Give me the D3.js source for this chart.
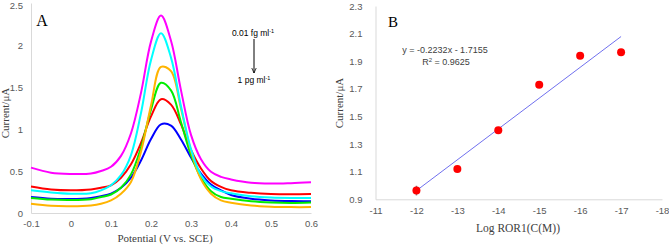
<!DOCTYPE html>
<html>
<head>
<meta charset="utf-8">
<script src="https://cdn.jsdelivr.net/npm/d3@7"></script>
<style>
  body { margin: 0; background: #fff; }
  text { font-family: "Liberation Sans", Arial, sans-serif; }
  .serif { font-family: "Liberation Serif", "Times New Roman", serif; }
</style>
</head>
<body>
<div id="roott"></div>
<script>
// DIMENSIONS
const widthh = 669;
const heightt = 245;

// ---- panel A data (DPV curves) ----
const potential = [-0.1, -0.05, 0, 0.05, 0.075, 0.1, 0.125, 0.15, 0.175, 0.2, 0.225, 0.25, 0.275, 0.3, 0.325, 0.35, 0.375, 0.4, 0.45, 0.5, 0.55, 0.6];
const magentaCurve = [0.54, 0.48, 0.465, 0.47, 0.50, 0.55, 0.68, 0.95, 1.43, 2.04, 2.35, 2.05, 1.46, 0.93, 0.64, 0.49, 0.43, 0.40, 0.36, 0.35, 0.355, 0.365];
const cyanCurve    = [0.27, 0.245, 0.23, 0.235, 0.27, 0.33, 0.45, 0.69, 1.19, 1.82, 2.14, 1.85, 1.27, 0.76, 0.45, 0.315, 0.26, 0.234, 0.20, 0.185, 0.18, 0.18];
const orangeCurve  = [0.11, 0.085, 0.08, 0.09, 0.11, 0.15, 0.23, 0.37, 0.73, 1.28, 1.74, 1.69, 1.24, 0.74, 0.40, 0.23, 0.15, 0.123, 0.09, 0.075, 0.07, 0.07];
const greenCurve   = [0.18, 0.16, 0.155, 0.165, 0.19, 0.22, 0.30, 0.46, 0.78, 1.23, 1.55, 1.46, 1.08, 0.69, 0.42, 0.26, 0.19, 0.17, 0.14, 0.125, 0.12, 0.125];
const redCurve     = [0.315, 0.28, 0.27, 0.28, 0.30, 0.33, 0.42, 0.58, 0.835, 1.15, 1.355, 1.29, 1.055, 0.75, 0.53, 0.38, 0.31, 0.27, 0.24, 0.225, 0.222, 0.225];
const blueCurve    = [0.19, 0.17, 0.167, 0.18, 0.20, 0.23, 0.30, 0.42, 0.625, 0.88, 1.055, 1.04, 0.875, 0.66, 0.47, 0.34, 0.27, 0.215, 0.17, 0.15, 0.142, 0.14];
const curveColors  = ['#ff00ff', '#00ffff', '#ffb400', '#00ee00', '#ff0000', '#0000ff'];
const xTicksA = [-0.1, 0, 0.1, 0.2, 0.3, 0.4, 0.5, 0.6];
const yTicksA = [0, 0.5, 1, 1.5, 2, 2.5];

// ---- panel B data (calibration) ----
const logConc = [-12, -13, -14, -15, -16, -17];
const peakCurrent = [0.963, 1.12, 1.40, 1.73, 1.94, 1.965];
const errBars = [0.035, 0.02, 0.02, 0.02, 0.02, 0.02];
const fitSlope = -0.2232;
const fitIntercept = -1.7155;
const xTicksB = [-11, -12, -13, -14, -15, -16, -17, -18];
const yTicksB = [0.9, 1.1, 1.3, 1.5, 1.7, 1.9, 2.1, 2.3];

let svg = d3.select('#roott')
  .append('svg')
  .attr('width', widthh)
  .attr('height', heightt)
  .style('background-color', '#fff');

// ================= PANEL A =================
let xA = d3.scaleLinear().domain([-0.1, 0.6]).range([31, 311]);
let yA = d3.scaleLinear().domain([0, 2.5]).range([213, 3]);

let gA = svg.append('g');

gA.append('g')
  .attr('transform', 'translate(0,213)')
  .call(d3.axisBottom(xA).tickValues(xTicksA).tickFormat(d => String(d)).tickSize(0).tickPadding(7))
  .call(g => g.select('.domain').attr('stroke', '#d9d9d9'))
  .call(g => g.selectAll('text').attr('fill', '#595959').style('font-size', '9.5px'));

gA.append('g')
  .attr('transform', 'translate(31,0)')
  .call(d3.axisLeft(yA).tickValues(yTicksA).tickFormat(d => String(d)).tickSize(0).tickPadding(8))
  .call(g => g.select('.domain').attr('stroke', '#d9d9d9'))
  .call(g => g.selectAll('text').attr('fill', '#595959').style('font-size', '9.5px'))
  // top label would be clipped by the window edge, nudge it down a bit
  .call(g => g.selectAll('.tick').filter(d => d === 2.5).select('text').attr('dy', '0.55em'));

let curves = [magentaCurve, cyanCurve, orangeCurve, greenCurve, redCurve, blueCurve];
let lineA = d3.line()
  .x((d, i) => xA(potential[i]))
  .y(d => yA(d))
  .curve(d3.curveCatmullRom.alpha(0.5));

// draw bottom-most first so magenta ends on top like the original
[5, 4, 3, 2, 1, 0].forEach(k => {
  gA.append('path')
    .datum(curves[k])
    .attr('d', lineA)
    .attr('fill', 'none')
    .attr('stroke', curveColors[k])
    .attr('stroke-width', 2);
});

gA.append('text').attr('class', 'serif')
  .attr('x', 42).attr('y', 26)
  .attr('text-anchor', 'middle')
  .style('font-size', '16px')
  .text('A');

gA.append('text').attr('class', 'serif')
  .attr('transform', 'translate(9,113) rotate(-90)')
  .attr('text-anchor', 'middle')
  .attr('fill', '#404040')
  .style('font-size', '11px')
  .text('Current/μA');

gA.append('text').attr('class', 'serif')
  .attr('x', 165).attr('y', 242)
  .attr('text-anchor', 'middle')
  .attr('fill', '#404040')
  .style('font-size', '11px')
  .text('Potential (V vs. SCE)');

// concentration arrow
let ann = gA.append('g').style('font-size', '8.5px');
let t1 = ann.append('text').attr('x', 253).attr('y', 36).attr('text-anchor', 'middle');
t1.append('tspan').text('0.01 fg ml');
t1.append('tspan').attr('dy', -3).style('font-size', '5.5px').text('-1');
let t2 = ann.append('text').attr('x', 254).attr('y', 83).attr('text-anchor', 'middle');
t2.append('tspan').text('1 pg ml');
t2.append('tspan').attr('dy', -3).style('font-size', '5.5px').text('-1');

svg.append('defs').append('marker')
  .attr('id', 'arr').attr('viewBox', '0 0 10 10')
  .attr('refX', 9).attr('refY', 5)
  .attr('markerWidth', 6).attr('markerHeight', 6)
  .attr('orient', 'auto')
  .append('path').attr('d', 'M0,1 L9,5 L0,9').attr('fill', 'none').attr('stroke', '#000').attr('stroke-width', 1.3);

ann.append('line')
  .attr('x1', 254).attr('y1', 39).attr('x2', 254).attr('y2', 73)
  .attr('stroke', '#000').attr('stroke-width', 1)
  .attr('marker-end', 'url(#arr)');

// ================= PANEL B =================
let xB = d3.scaleLinear().domain([-11, -18]).range([375.5, 662]);
let yB = d3.scaleLinear().domain([0.9, 2.3]).range([199.3, 6]);

let gB = svg.append('g');

gB.append('g')
  .attr('transform', 'translate(0,199.3)')
  .call(d3.axisBottom(xB).tickValues(xTicksB).tickFormat(d => String(d)).tickSize(0).tickPadding(8))
  .call(g => g.select('.domain').attr('stroke', '#d9d9d9'))
  .call(g => g.selectAll('text').attr('fill', '#595959').style('font-size', '9.5px'));

gB.append('g')
  .attr('transform', 'translate(375.5,0)')
  .call(d3.axisLeft(yB).tickValues(yTicksB).tickFormat(d3.format('.1f')).tickSize(0).tickPadding(13))
  .call(g => g.select('.domain').attr('stroke', '#d9d9d9'))
  .call(g => g.selectAll('text').attr('fill', '#595959').style('font-size', '9.5px'));

// linear fit line
let fitEnds = [logConc[0], logConc[logConc.length - 1]];
gB.append('line')
  .attr('x1', xB(fitEnds[0])).attr('y1', yB(fitSlope * fitEnds[0] + fitIntercept))
  .attr('x2', xB(fitEnds[1])).attr('y2', yB(fitSlope * fitEnds[1] + fitIntercept))
  .attr('stroke', '#7070ee').attr('stroke-width', 1);

// error bars
gB.selectAll('.err')
  .data(logConc)
  .enter()
  .append('line')
  .attr('x1', d => xB(d)).attr('x2', d => xB(d))
  .attr('y1', (d, i) => yB(peakCurrent[i] + errBars[i]))
  .attr('y2', (d, i) => yB(peakCurrent[i] - errBars[i]))
  .attr('stroke', '#7f7f7f').attr('stroke-width', 1.5);

gB.selectAll('circle')
  .data(logConc)
  .enter()
  .append('circle')
  .attr('cx', d => xB(d))
  .attr('cy', (d, i) => yB(peakCurrent[i]))
  .attr('r', 4)
  .style('fill', '#ff0000');

gB.append('text').attr('class', 'serif')
  .attr('x', 393).attr('y', 27)
  .attr('text-anchor', 'middle')
  .style('font-size', '15px')
  .text('B');

gB.append('text')
  .attr('x', 445).attr('y', 53)
  .attr('text-anchor', 'middle')
  .attr('fill', '#404040')
  .style('font-size', '9px')
  .text('y = -0.2232x - 1.7155');

let r2 = gB.append('text')
  .attr('x', 446).attr('y', 65)
  .attr('text-anchor', 'middle')
  .attr('fill', '#404040')
  .style('font-size', '9px');
r2.append('tspan').text('R');
r2.append('tspan').attr('dy', -3).style('font-size', '6px').text('2');
r2.append('tspan').attr('dy', 3).text(' = 0.9625');

gB.append('text').attr('class', 'serif')
  .attr('transform', 'translate(343,103) rotate(-90)')
  .attr('text-anchor', 'middle')
  .attr('fill', '#404040')
  .style('font-size', '11px')
  .text('Current/μA');

gB.append('text').attr('class', 'serif')
  .attr('x', 518).attr('y', 232)
  .attr('text-anchor', 'middle')
  .attr('fill', '#404040')
  .style('font-size', '11.5px')
  .text('Log ROR1(C(M))');
</script>
</body>
</html>
